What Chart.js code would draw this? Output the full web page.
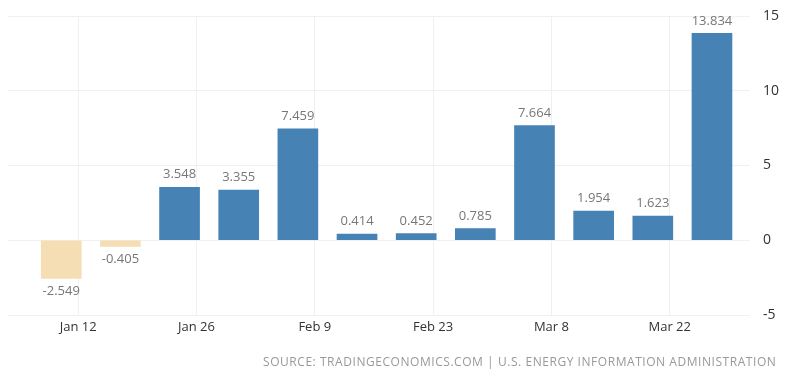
<!DOCTYPE html>
<html>
<head>
<meta charset="utf-8">
<script src="https://cdn.jsdelivr.net/npm/chart.js@4/dist/chart.umd.min.js"></script>
<style>
  html, body { margin: 0; padding: 0; background: #fff; }
  #wrap { position: relative; width: 796px; height: 379px; }
  #source { position: absolute; left: 263px; top: 353px; font-family: "Open Sans", sans-serif; font-size: 12px; color: #999; letter-spacing: 0.55px; white-space: nowrap; }
</style>
</head>
<body>
<div id="wrap">
  <canvas id="c" width="796" height="379"></canvas>
  <div id="source">SOURCE: TRADINGECONOMICS.COM | U.S. ENERGY INFORMATION ADMINISTRATION</div>
</div>
<script>
const categories = ['Jan 10','Jan 17','Jan 24','Jan 31','Feb 7','Feb 14','Feb 21','Feb 28','Mar 6','Mar 13','Mar 20','Mar 27'];
const values = [-2.549, -0.405, 3.548, 3.355, 7.459, 0.414, 0.452, 0.785, 7.664, 1.954, 1.623, 13.834];
const tickLabels = ['Jan 12','Jan 26','Feb 9','Feb 23','Mar 8','Mar 22'];
const yTicks = [-5, 0, 5, 10, 15];

const monthStart = { Jan: 0, Feb: 31, Mar: 60 };
function dayNum(s) { const p = s.split(' '); return monthStart[p[0]] + parseInt(p[1], 10); }
const points = categories.map((c, i) => ({ x: dayNum(c), y: values[i] }));
const tickDays = tickLabels.map(dayNum);

const labelPlugin = {
  id: 'barLabels',
  afterDatasetsDraw(chart) {
    const ctx = chart.ctx;
    const meta = chart.getDatasetMeta(0);
    ctx.save();
    ctx.font = '13px "Open Sans", sans-serif';
    ctx.fillStyle = '#777';
    ctx.textAlign = 'center';
    meta.data.forEach((bar, i) => {
      const v = values[i];
      const txt = v.toFixed(3);
      if (v >= 0) { ctx.textBaseline = 'bottom'; ctx.fillText(txt, bar.x, bar.y - 6); }
      else { ctx.textBaseline = 'top'; ctx.fillText(txt, bar.x, bar.y + 6); }
    });
    ctx.restore();
  }
};

new Chart(document.getElementById('c'), {
  type: 'bar',
  data: {
    datasets: [{
      data: points,
      backgroundColor: points.map(p => p.y < 0 ? '#f5deb3' : '#4682b4'),
      barThickness: 40,
      borderWidth: 0
    }]
  },
  options: {
    responsive: false,
    animation: false,
    layout: { padding: { left: 8, top: 16, right: 0, bottom: 0 } },
    plugins: { legend: { display: false }, tooltip: { enabled: false } },
    scales: {
      x: {
        type: 'linear',
        offset: false,
        min: 3.7,
        max: 91.5,
        afterBuildTicks: s => { s.ticks = tickDays.map(v => ({ value: v })); },
        afterFit: s => { s.height = 64; s.paddingLeft = 0; s.paddingRight = 0; },
        ticks: {
          callback: v => tickLabels[tickDays.indexOf(v)] || '',
          color: '#333',
          font: { family: 'Open Sans', size: 13 },
          padding: 4,
          maxRotation: 0,
          autoSkip: false
        },
        grid: { offset: false, color: '#f0f0f0', drawTicks: false },
        border: { display: false }
      },
      y: {
        position: 'right',
        min: -5,
        max: 15,
        afterBuildTicks: s => { s.ticks = yTicks.map(v => ({ value: v })); },
        afterFit: s => { s.width = 46; s.paddingTop = 0; s.paddingBottom = 0; },
        ticks: {
          color: '#333',
          font: { family: 'Open Sans', size: 14 },
          padding: 13
        },
        grid: { color: '#f0f0f0', drawTicks: false },
        border: { display: false }
      }
    }
  },
  plugins: [labelPlugin]
});
</script>
</body>
</html>
